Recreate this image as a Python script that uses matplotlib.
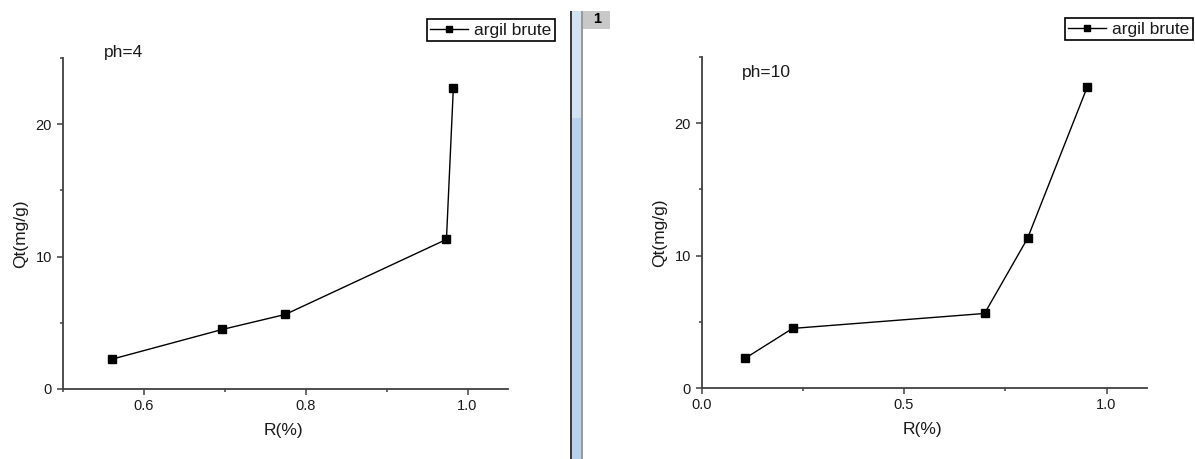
import matplotlib
matplotlib.use("Agg")
import matplotlib.pyplot as plt
from matplotlib.patches import Rectangle
from matplotlib.ticker import MultipleLocator

W, H = 1195, 459

# data
R_PH4  = [0.561, 0.6975, 0.775, 0.974, 0.9825]
QT_PH4 = [2.25, 4.5, 5.63, 11.3, 22.7]

R_PH10  = [0.107, 0.225, 0.699, 0.805, 0.952]
QT_PH10 = [2.23, 4.5, 5.63, 11.3, 22.7]

SERIES_NAME = "argil brute"
X_LABEL = "R(%)"
Y_LABEL = "Qt(mg/g)"

AXIS_COL = "#404040"
TEXT_COL = "#1a1a1a"

plt.rcParams["font.family"] = ["Liberation Sans", "DejaVu Sans"]


def px_box(x0, y0, x1, y1):
    """pixel box (top-left origin) -> figure fraction [l, b, w, h]"""
    return [x0 / W, 1 - y1 / H, (x1 - x0) / W, (y1 - y0) / H]


def style_axes(ax, xmajor, xminor):
    for side in ("top", "right"):
        ax.spines[side].set_visible(False)
    for side in ("left", "bottom"):
        ax.spines[side].set_color(AXIS_COL)
        ax.spines[side].set_linewidth(1.3)
    ax.xaxis.set_major_locator(MultipleLocator(xmajor))
    ax.xaxis.set_minor_locator(MultipleLocator(xminor))
    ax.yaxis.set_major_locator(MultipleLocator(10))
    ax.yaxis.set_minor_locator(MultipleLocator(5))
    ax.tick_params(which="major", direction="out", length=4.5, width=1.1,
                   color=AXIS_COL, labelsize=10.5, labelcolor=TEXT_COL, pad=3)
    ax.tick_params(which="minor", direction="out", length=2.5, width=1.1,
                   color=AXIS_COL)
    ax.set_ylim(0, 25)


def draw_panel(ax, xs, ys, xlim, xmajor, xminor, fmt, note, note_xy, leg_px):
    ax.plot(xs, ys, color="black", linewidth=1.0, marker="s", markersize=6,
            markerfacecolor="black", markeredgecolor="black", label=SERIES_NAME)
    ax.set_xlim(*xlim)
    style_axes(ax, xmajor, xminor)
    ax.xaxis.set_major_formatter(plt.FormatStrFormatter(fmt))
    ax.set_xlabel(X_LABEL, fontsize=12.5, color=TEXT_COL)
    ax.set_ylabel(Y_LABEL, fontsize=12.5, color=TEXT_COL)
    ax.xaxis.set_label_coords(0.497, -0.103)
    ax.yaxis.set_label_coords(-0.078, 0.468)
    fig.text(note_xy[0] / W, 1 - note_xy[1] / H, note, fontsize=12.5,
             color=TEXT_COL, ha="left", va="center")
    leg = ax.legend(loc="upper right", fontsize=12.5,
                    bbox_to_anchor=(leg_px[0] / W, 1 - leg_px[1] / H),
                    bbox_transform=fig.transFigure, borderaxespad=0,
                    fancybox=False, framealpha=1, edgecolor="black",
                    handlelength=2.2, handletextpad=0.35, borderpad=0.2,
                    markerscale=0.7, labelcolor=TEXT_COL)
    leg.get_frame().set_linewidth(1.2)


fig = plt.figure(figsize=(W / 100, H / 100), dpi=100)
fig.patch.set_facecolor("white")

ax1 = fig.add_axes(px_box(62.5, 58, 508, 389))
draw_panel(ax1, R_PH4, QT_PH4, (0.5, 1.05), 0.2, 0.1, "%.1f",
           "ph=4", (104, 53), (555, 19))

ax2 = fig.add_axes(px_box(701.5, 57, 1147, 388))
draw_panel(ax2, R_PH10, QT_PH10, (0.0, 1.1), 0.5, 0.25, "%.1f",
           "ph=10", (742, 72), (1193, 18))

# window splitter between the two graph pages
def add_rect(x0, y0, x1, y1, color):
    fig.add_artist(Rectangle((x0 / W, 1 - y1 / H), (x1 - x0) / W, (y1 - y0) / H,
                             transform=fig.transFigure, facecolor=color,
                             edgecolor="none", zorder=5))

add_rect(569.5, 11, 571.5, H, "#3c3c3c")
add_rect(571.5, 11, 581, H, "#b9d1ec")
add_rect(571.5, 11, 581, 118, "#d3e2f3")
add_rect(581, 11, 583, H, "#9a9a9a")
add_rect(583, 11, 610, 29, "#c8c8c8")
fig.text(597 / W, 1 - 19 / H, "1", fontsize=10.5, fontweight="bold",
         color="black", ha="center", va="center", zorder=6)

fig.savefig("out.png", dpi=100, facecolor="white")
